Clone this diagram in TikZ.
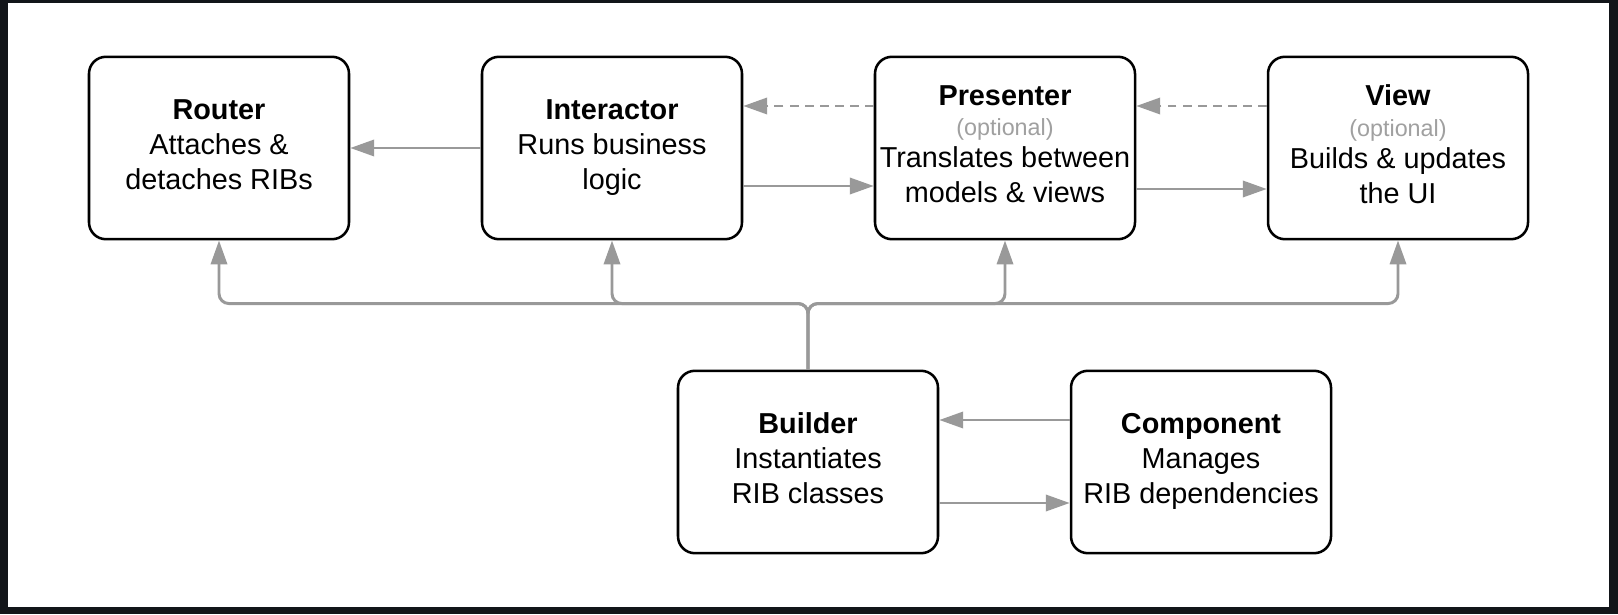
\documentclass[tikz,border=0pt]{standalone}
\usepackage{fontspec}
\setmainfont{Liberation Sans}
\usetikzlibrary{arrows.meta}

\definecolor{framedark}{HTML}{121519}
\definecolor{linkgray}{HTML}{999999}
\definecolor{optgray}{HTML}{A0A0A0}
\newcommand{\optnote}[1]{{\fontsize{16.6}{20}\selectfont\color{optgray}#1}}

\begin{document}
\begin{tikzpicture}[
    block/.style={draw=black, line width=1.8pt, rounded corners=12pt, fill=white,
      minimum width=6.5cm, minimum height=4.56cm, inner sep=0pt, align=center,
      font=\fontsize{20.5}{24.9}\selectfont,
      execute at end node={\rule[-5.5pt]{0pt}{0pt}}},
    link/.style={draw=linkgray, line width=2.1pt, -{Triangle[length=17pt,width=11.5pt]}},
    weak/.style={link, dash pattern=on 6.4pt off 4.3pt}
  ]
    % draw frame
    \fill[framedark] (0,0) rectangle (40.45,15.35);
    \fill[white] (0.2,0.175) rectangle (40.225,15.275);

    % draw top row
    \node[block] (router) at (5.475,11.65) {\textbf{Router}\\Attaches \&\\detaches RIBs};
    \node[block] (interactor) at (15.3,11.65) {\textbf{Interactor}\\Runs business\\logic};
    \node[block] (presenter) at (25.125,11.65) {\textbf{Presenter}\\[-3.5pt]\optnote{(optional)}\\[-2pt]Translates between\\models \& views};
    \node[block] (view) at (34.95,11.65) {\textbf{View}\\[-3.5pt]\optnote{(optional)}\\[-2pt]Builds \& updates\\the UI};

    % draw bottom row
    \node[block] (builder) at (20.2,3.8) {\textbf{Builder}\\Instantiates\\RIB classes};
    \node[block] (component) at (30.025,3.8) {\textbf{Component}\\Manages\\RIB dependencies};

    % draw arrows between boxes
    \draw[link] (interactor.west) -- (router.east);
    \draw[weak] ([yshift=1.05cm]presenter.west) -- ([yshift=1.05cm]interactor.east);
    \draw[link] ([yshift=-0.95cm]interactor.east) -- ([yshift=-0.95cm]presenter.west);
    \draw[weak] ([yshift=1.05cm]view.west) -- ([yshift=1.05cm]presenter.east);
    \draw[link] ([yshift=-1.025cm]presenter.east) -- ([yshift=-1.025cm]view.west);
    \draw[link] ([yshift=1.05cm]component.west) -- ([yshift=1.05cm]builder.east);
    \draw[link] ([yshift=-1.025cm]builder.east) -- ([yshift=-1.025cm]component.west);

    % draw bus from builder
    \path (builder.north) ++(0,1.65) coordinate (bus);
    \foreach \t in {router,interactor,presenter,view}
    \draw[link, rounded corners=7pt] (builder.north) -- (bus) -| (\t.south);

  \end{tikzpicture}
\end{document}
